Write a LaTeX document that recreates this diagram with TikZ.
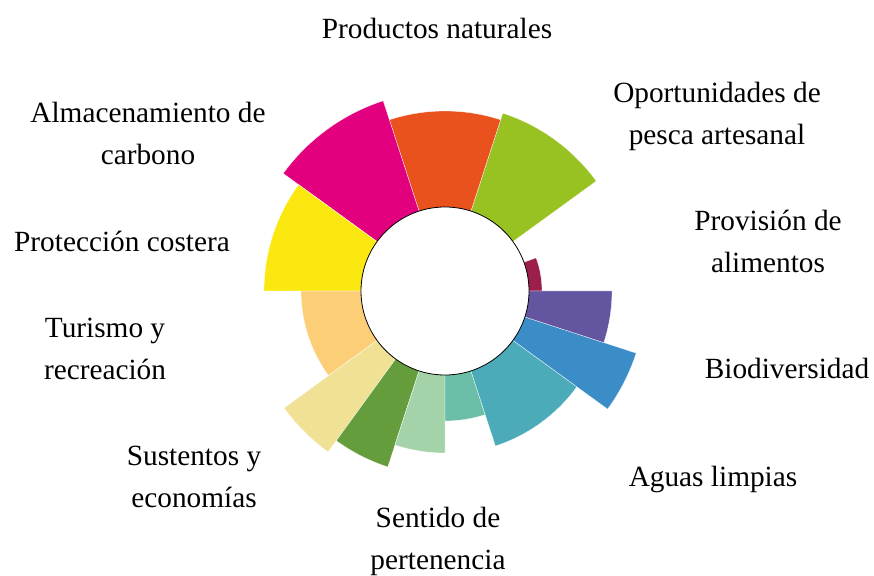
\documentclass[tikz,border=0pt]{standalone}
\usepackage{fontspec}
\setmainfont{Liberation Serif}

\definecolor{cDarkRed}{HTML}{9C1E4B}
\definecolor{cLime}{HTML}{97C221}
\definecolor{cOrange}{HTML}{E9511D}
\definecolor{cMagenta}{HTML}{E3007E}
\definecolor{cYellow}{HTML}{FCE811}
\definecolor{cPeach}{HTML}{FDCE78}
\definecolor{cKhaki}{HTML}{F0E195}
\definecolor{cGreen}{HTML}{659C3C}
\definecolor{cPale}{HTML}{A5D3A9}
\definecolor{cMint}{HTML}{6BBFA8}
\definecolor{cTeal}{HTML}{4BABB9}
\definecolor{cBlue}{HTML}{3A8DC6}
\definecolor{cPurple}{HTML}{63559F}

\begin{document}
\begin{tikzpicture}[x=1pt, y=1pt,
    petal/.style={draw=white, line width=0.3pt},
    lbl/.style={align=center, font=\fontsize{29.3}{42}\selectfont}]
        \useasboundingbox (-445,-284) rectangle (429,291);

        \filldraw[petal, fill=cDarkRed] (0,0) -- (0:97pt) arc[start angle=0, end angle=20, radius=97pt] -- cycle;
        \filldraw[petal, fill=cLime] (0,0) -- (36:187pt) arc[start angle=36, end angle=72, radius=187pt] -- cycle;
        \filldraw[petal, fill=cOrange] (0,0) -- (72:180pt) arc[start angle=72, end angle=108, radius=180pt] -- cycle;
        \filldraw[petal, fill=cMagenta] (0,0) -- (108:200pt) arc[start angle=108, end angle=144, radius=200pt] -- cycle;
        \filldraw[petal, fill=cYellow] (0,0) -- (144:181pt) arc[start angle=144, end angle=180, radius=181pt] -- cycle;
        \filldraw[petal, fill=cPeach] (0,0) -- (180:144pt) arc[start angle=180, end angle=216, radius=144pt] -- cycle;
        \filldraw[petal, fill=cKhaki] (0,0) -- (216:199pt) arc[start angle=216, end angle=234, radius=199pt] -- cycle;
        \filldraw[petal, fill=cGreen] (0,0) -- (234:185pt) arc[start angle=234, end angle=252, radius=185pt] -- cycle;
        \filldraw[petal, fill=cPale] (0,0) -- (252:162pt) arc[start angle=252, end angle=270, radius=162pt] -- cycle;
        \filldraw[petal, fill=cMint] (0,0) -- (270:130pt) arc[start angle=270, end angle=288, radius=130pt] -- cycle;
        \filldraw[petal, fill=cTeal] (0,0) -- (288:163pt) arc[start angle=288, end angle=324, radius=163pt] -- cycle;
        \filldraw[petal, fill=cBlue] (0,0) -- (324:201pt) arc[start angle=324, end angle=342, radius=201pt] -- cycle;
        \filldraw[petal, fill=cPurple] (0,0) -- (342:167pt) arc[start angle=342, end angle=360, radius=167pt] -- cycle;

        \node[circle, draw, fill=white, line width=0.8pt, inner sep=0pt, minimum size=168pt] (hole) at (0,0) {};

        \node[lbl] (natprod) at (-8,263) {Productos naturales};
        \node[lbl] (artfish) at (272,175) {Oportunidades de\\pesca artesanal};
        \node[lbl] (food) at (323,49.5) {Provisión de\\alimentos};
        \node[lbl] (biodiv) at (342,-77) {Biodiversidad};
        \node[lbl] (water) at (268,-188) {Aguas limpias};
        \node[lbl] (place) at (-7,-250.5) {Sentido de\\pertenencia};
        \node[lbl] (econ) at (-251,-186) {Sustentos y\\economías};
        \node[lbl] (tourism) at (-340,-57.5) {Turismo y\\recreación};
        \node[lbl] (coast) at (-323,50) {Protección costera};
        \node[lbl] (carbon) at (-297,157.5) {Almacenamiento de\\carbono};
      \end{tikzpicture}
\end{document}
